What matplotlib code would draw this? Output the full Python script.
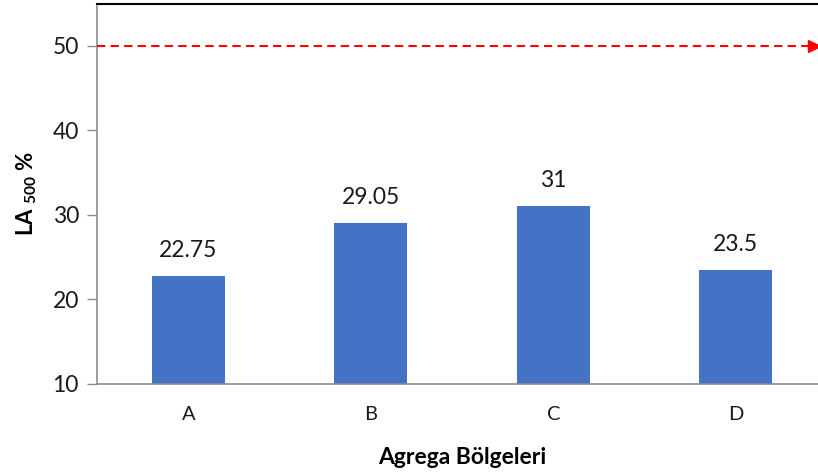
import matplotlib
matplotlib.use("Agg")
import matplotlib.pyplot as plt

categories = ["A", "B", "C", "D"]
values = [22.75, 29.05, 31, 23.5]
value_labels = ["22.75", "29.05", "31", "23.5"]
limit_value = 50
y_ticks = [10, 20, 30, 40, 50]

plt.rcParams["font.family"] = ["Lato", "DejaVu Sans"]
plt.rcParams["mathtext.fontset"] = "custom"
plt.rcParams["mathtext.rm"] = "Lato"
plt.rcParams["mathtext.bf"] = "Lato:bold"

fig = plt.figure(figsize=(8.18, 4.75), dpi=100)
ax = fig.add_axes([97 / 818, 1 - 384 / 475, (827 - 97) / 818, (384 - 3.5) / 475])

x = list(range(len(categories)))
ax.bar(x, values, width=0.4, color="#4472C4", zorder=2)

for xi, v, lab in zip(x, values, value_labels):
    ax.annotate(lab, (xi, v), xytext=(0, 11), textcoords="offset points",
                ha="center", va="bottom", fontsize=16.5, color="#1a1a1a")

# limit line with arrow head
ax.plot([-0.5, 3.43], [limit_value, limit_value], color="red", lw=1.5,
        dashes=(4, 2.5), zorder=3, clip_on=False)
ax.plot([3.43], [limit_value], marker=">", color="red", markersize=9,
        zorder=4, clip_on=False)

ax.set_xlim(-0.5, 3.5)
ax.set_ylim(10, 55)
ax.set_yticks(y_ticks)
ax.set_xticks(x)
ax.set_xticklabels(categories)
ax.tick_params(axis="y", labelsize=16.5, length=7, width=1, color="#8c8c8c",
               pad=6, labelcolor="#1a1a1a")
ax.tick_params(axis="x", labelsize=14.5, length=0, pad=16, labelcolor="#1a1a1a")

ax.spines["left"].set_color("#8c8c8c")
ax.spines["left"].set_linewidth(1.2)
ax.spines["bottom"].set_color("#8c8c8c")
ax.spines["bottom"].set_linewidth(1.2)
ax.spines["top"].set_color("black")
ax.spines["top"].set_linewidth(1.5)
ax.spines["right"].set_visible(False)

ax.set_xlabel("Agrega Bölgeleri", fontsize=16.5, fontweight="bold", labelpad=17)
ax.set_ylabel(r"LA $_{\mathbf{500}}$ %", fontsize=16, fontweight="bold", labelpad=10)

fig.savefig("out.png", dpi=100)
